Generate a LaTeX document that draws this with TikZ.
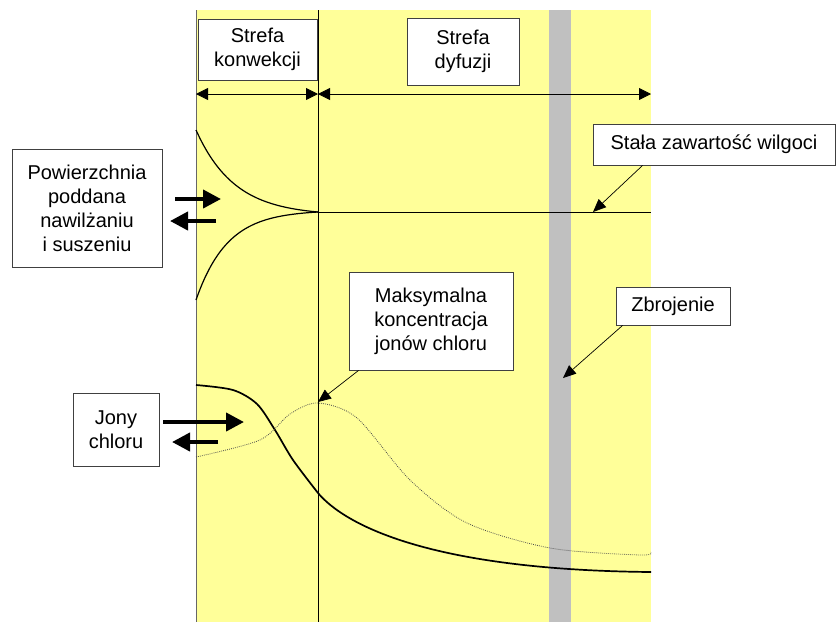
\documentclass[tikz,border=0pt]{standalone}
\usepackage{fontspec}
\setmainfont{Liberation Sans}
\usetikzlibrary{arrows.meta}
\definecolor{strefa}{RGB}{255,255,153}
\definecolor{stal}{RGB}{192,192,192}

\begin{document}
\begin{tikzpicture}[x=1pt,y=-1pt,
    opis/.style={draw=black!75,line width=0.8pt,fill=white,align=center,inner sep=0pt,
      font=\fontsize{20}{24}\selectfont},
    wymiar/.style={line width=0.8pt,{Triangle[length=12pt,width=12pt]}-{Triangle[length=12pt,width=12pt]}},
    strumien/.style={line width=4pt,-{Triangle[length=18pt,width=18pt]}},
    wskaz/.style={line width=0.7pt,-{Triangle[length=13pt,width=11pt]}}]
    \useasboundingbox (0,0) rectangle (837,622);
    % strefy i zbrojenie
    \fill[strefa] (196,10) rectangle (651,622);
    \fill[stal] (549,10) rectangle (571,622);
    \coordinate (lewa) at (196,94);
    \coordinate (srodek) at (318,94);
    \coordinate (prawa) at (651,94);
    \draw[black!60,line width=1pt] (196,10) -- (196,622);
    \draw[line width=0.8pt] (318,10) -- (318,622);
    \draw[wymiar] (lewa) -- (srodek);
    \draw[wymiar] (srodek) -- (prawa);
    % wilgoc
    \coordinate (wilg) at (318,212);
    \coordinate (wilgend) at (651,212);
    \draw[line width=1.2pt] plot[domain=0:122,samples=60] ({196+\x},{212-82*(exp(-0.026*\x)-0.042)/0.958});
    \draw[line width=1.2pt] plot[domain=0:122,samples=60] ({196+\x},{212+88*(exp(-0.032*\x)-0.02)/0.98});
    \draw[line width=0.7pt] (wilg) -- (wilgend);
    % chlorki
    \draw[line width=1.7pt] plot[smooth] coordinates {(196,385) (233,390) (257,404) (275,430)
      (293,460) (318,493)} .. controls (345,525) and (430,570) .. (651,572);
    \draw[gray!60!black,line width=0.8pt,dash pattern=on 0.8pt off 1.2pt] plot[smooth] coordinates {(196,457)
      (260,440) (290,414) (318,403) (357,418) (410,480) (467,523) (550,548) (640,555) (651,552)};
    % opisy
    \node[opis,minimum width=119pt,minimum height=61pt] (konw) at (257.5,49.5) {Strefa\\konwekcji};
    \node[opis,minimum width=112pt,minimum height=67pt] (dyf) at (463,51.5) {Strefa\\dyfuzji};
    \node[opis,minimum width=150pt,minimum height=118pt] (pow) at (87,208) {Powierzchnia\\poddana\\nawilżaniu\\i suszeniu};
    \node[opis,minimum width=242pt,minimum height=41pt] (stala) at (714,144.5) {Stała zawartość wilgoci};
    \node[opis,minimum width=114pt,minimum height=38pt] (zbr) at (673,306) {Zbrojenie};
    \node[opis,minimum width=164pt,minimum height=98pt] (maks) at (431,321) {Maksymalna\\koncentracja\\jonów chloru};
    \node[opis,minimum width=86pt,minimum height=73pt] (jony) at (116,429.5) {Jony\\chloru};
    % strzalki
    \coordinate (pw1) at (175,199);
    \coordinate (pw2) at (221,199);
    \coordinate (ps1) at (216,221);
    \coordinate (ps2) at (170,221);
    \draw[strumien] (pw1) -- (pw2);
    \draw[strumien] (ps1) -- (ps2);
    \coordinate (jw1) at (163,422);
    \coordinate (jw2) at (244,422);
    \coordinate (js1) at (218,442);
    \coordinate (js2) at (172,442);
    \draw[strumien] (jw1) -- (jw2);
    \draw[strumien] (js1) -- (js2);
    \coordinate (szczyt) at (318,402);
    \coordinate (pret) at (563,378);
    \coordinate (wtip) at (593,212);
    \draw[wskaz] ([xshift=50pt]stala.south west) -- (wtip);
    \draw[wskaz] ([xshift=7pt]zbr.south west) -- (pret);
    \draw[wskaz] ([xshift=10pt]maks.south west) -- (szczyt);
\end{tikzpicture}
\end{document}
